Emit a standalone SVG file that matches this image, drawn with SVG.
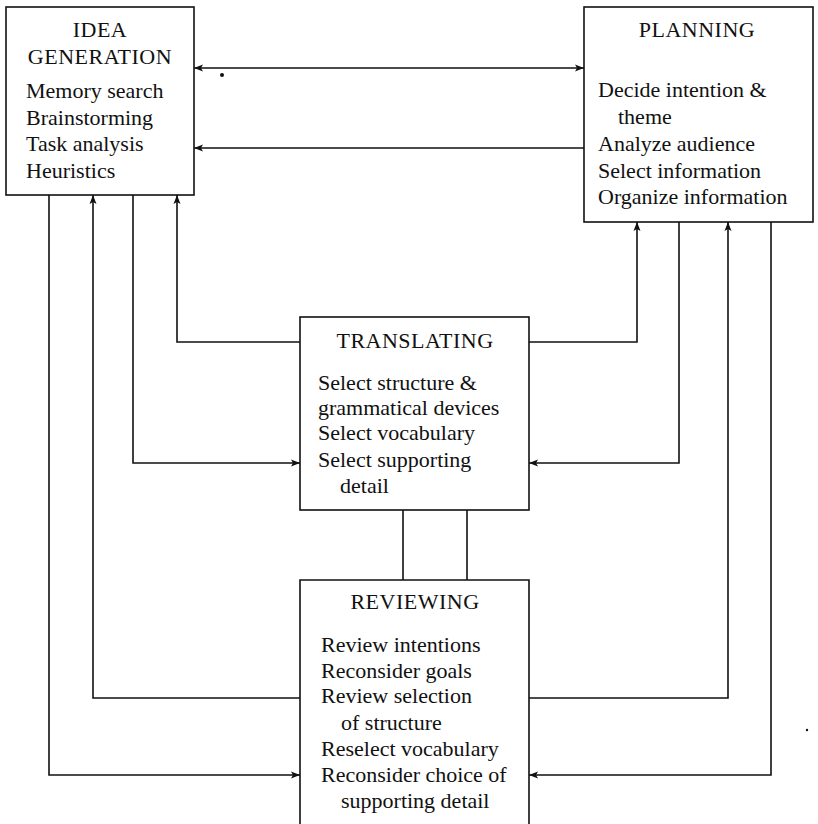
<svg xmlns="http://www.w3.org/2000/svg" width="818" height="824" viewBox="0 0 818 824">
  <style>
    .box { fill: #fff; stroke: #111; stroke-width: 1.6; }
    .wire { fill: none; stroke: #111; stroke-width: 1.6; }
    text { font-family: "Liberation Serif", "Times New Roman", serif; font-size: 22px; fill: #111; }
    .title { text-anchor: middle; letter-spacing: 0.5px; }
  </style>
  <defs>
    <marker id="arrow" markerUnits="userSpaceOnUse" markerWidth="10" markerHeight="8" refX="9" refY="4" orient="auto-start-reverse">
      <path d="M0,0.5 L9,4 L0,7.5 L2,4 z" fill="#111"/>
    </marker>
  </defs>
  <rect width="818" height="824" fill="#fff"/>

  <!-- connectors -->
  <g id="connectors">
    <path class="wire" d="M194,68 H584" marker-start="url(#arrow)" marker-end="url(#arrow)"/>
    <path class="wire" d="M584,148 H194" marker-end="url(#arrow)"/>
    <path class="wire" d="M300,342 H177 V195" marker-end="url(#arrow)"/>
    <path class="wire" d="M133,195 V463 H300" marker-end="url(#arrow)"/>
    <path class="wire" d="M529,342 H637 V222" marker-end="url(#arrow)"/>
    <path class="wire" d="M679,222 V463 H529" marker-end="url(#arrow)"/>
    <path class="wire" d="M403,510 V580"/>
    <path class="wire" d="M467,510 V580"/>
    <path class="wire" d="M300,698 H93 V195" marker-end="url(#arrow)"/>
    <path class="wire" d="M49,195 V775 H300" marker-end="url(#arrow)"/>
    <path class="wire" d="M529,698 H728 V222" marker-end="url(#arrow)"/>
    <path class="wire" d="M771,222 V775 H529" marker-end="url(#arrow)"/>
  </g>

  <!-- stray print specks -->
  <circle cx="222" cy="75" r="2" fill="#111"/>
  <circle cx="807" cy="730" r="1.2" fill="#111"/>

  <g id="idea-generation">
    <rect class="box" x="6" y="7" width="188" height="188"/>
    <text class="title" x="100" y="37">IDEA</text>
    <text class="title" x="100" y="64">GENERATION</text>
    <text x="26" y="98">Memory search</text>
    <text x="26" y="125">Brainstorming</text>
    <text x="26" y="151">Task analysis</text>
    <text x="26" y="178">Heuristics</text>
  </g>

  <g id="planning">
    <rect class="box" x="584" y="7" width="229" height="215"/>
    <text class="title" x="697" y="37">PLANNING</text>
    <text x="598" y="97">Decide intention &amp;</text>
    <text x="618" y="124">theme</text>
    <text x="598" y="151">Analyze audience</text>
    <text x="598" y="178">Select information</text>
    <text x="598" y="204">Organize information</text>
  </g>

  <g id="translating">
    <rect class="box" x="300" y="317" width="229" height="193"/>
    <text class="title" x="415" y="348">TRANSLATING</text>
    <text x="318" y="390">Select structure &amp;</text>
    <text x="318" y="415">grammatical devices</text>
    <text x="318" y="440">Select vocabulary</text>
    <text x="318" y="467">Select supporting</text>
    <text x="340" y="493">detail</text>
  </g>

  <g id="reviewing">
    <path class="box" d="M300,826 V580 H529 V826"/>
    <text class="title" x="415" y="609">REVIEWING</text>
    <text x="321" y="652">Review intentions</text>
    <text x="321" y="678">Reconsider goals</text>
    <text x="321" y="703">Review selection</text>
    <text x="341" y="730">of structure</text>
    <text x="321" y="756">Reselect vocabulary</text>
    <text x="321" y="782">Reconsider choice of</text>
    <text x="341" y="808">supporting detail</text>
  </g>
</svg>
